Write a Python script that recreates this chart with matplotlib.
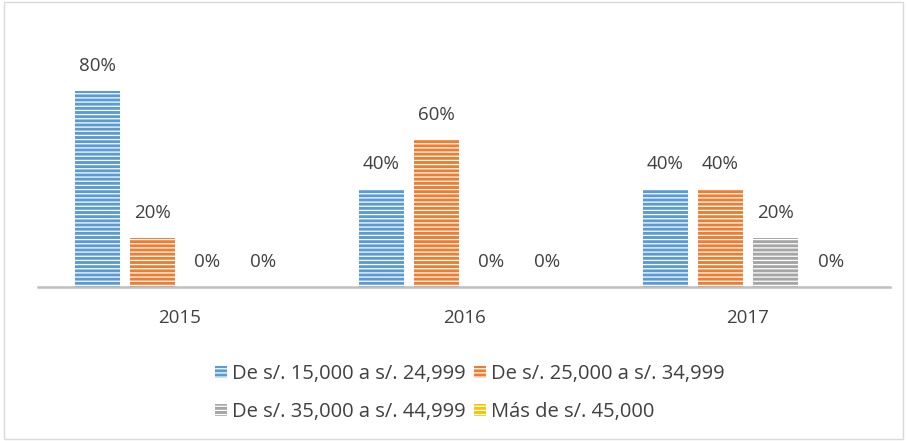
import numpy as np
import matplotlib.pyplot as plt
from matplotlib.patches import Rectangle

plt.rcParams['font.family'] = ['Open Sans', 'DejaVu Sans']
plt.rcParams['hatch.linewidth'] = 0.9

years = ['2015', '2016', '2017']
series = ['De s/. 15,000 a s/. 24,999', 'De s/. 25,000 a s/. 34,999',
          'De s/. 35,000 a s/. 44,999', 'Más de s/. 45,000']
values = [
    [0.80, 0.40, 0.40],
    [0.20, 0.60, 0.40],
    [0.00, 0.00, 0.20],
    [0.00, 0.00, 0.00],
]
colors = ['#5b9bd5', '#ed7d31', '#a5a5a5', '#ffc000']

fig = plt.figure(figsize=(9.07, 4.41), dpi=100)
ax = fig.add_axes([38 / 907, 1 - 287 / 441, 852 / 907, 221 / 441])

x = np.arange(len(years))
slot = 0.194
width = 0.158
handles = []
for i, (name, vals, c) in enumerate(zip(series, values, colors)):
    pos = x + (i - 1.5) * slot
    bars = ax.bar(pos, vals, width, color=c, edgecolor='white', linewidth=0,
                  hatch='----', label=name)
    handles.append(bars)
    for b, v in zip(bars, vals):
        ax.text(b.get_x() + b.get_width() / 2, v + 0.065, f'{v:.0%}',
                ha='center', va='bottom', fontsize=13.5, color='#404040')

ax.set_xlim(-0.5, 2.5)
ax.set_ylim(0, 0.9)
ax.set_yticks([])
ax.set_xticks(x)
ax.set_xticklabels(years, fontsize=13.5, color='#404040')
ax.tick_params(axis='x', length=0, pad=16)
for s in ['top', 'right', 'left']:
    ax.spines[s].set_visible(False)
ax.spines['bottom'].set_color('#bfbfbf')
ax.spines['bottom'].set_linewidth(1.8)

# legend fills row by row, like the original
order = [0, 2, 1, 3]
leg = fig.legend([handles[k] for k in order], [series[k] for k in order],
                 loc='upper left', bbox_to_anchor=(207 / 907, 1 - 356 / 441),
                 ncol=2, frameon=False, fontsize=14.5, handlelength=0.6,
                 handleheight=0.6, handletextpad=0.25, columnspacing=0.4,
                 labelspacing=0.9, borderaxespad=0)
for t in leg.get_texts():
    t.set_color('#404040')

fig.patches.append(Rectangle((0.004, 0.004), 0.992, 0.992, transform=fig.transFigure,
                             fill=False, edgecolor='#d9d9d9', linewidth=1))

fig.savefig('out.png', dpi=100)
